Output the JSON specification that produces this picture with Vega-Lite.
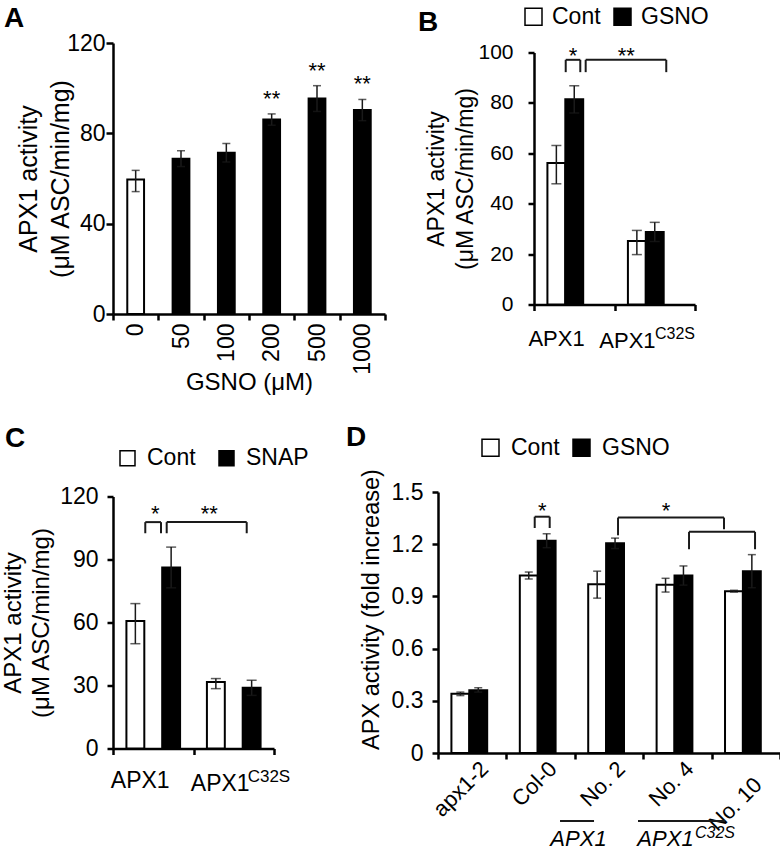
{
  "$schema": "https://vega.github.io/schema/vega-lite/v6.json",
  "padding": {"left": 1, "top": 5, "right": 0, "bottom": 0},
  "background": "white",
  "config": {
    "font": "Liberation Sans",
    "view": {"stroke": null},
    "axis": {"domainColor": "black", "domainWidth": 2.5, "tickColor": "black", "tickWidth": 2.5, "tickSize": 6, "labelColor": "black", "labelFontSize": 22, "titleColor": "black", "titleFontSize": 24, "titleFontWeight": "normal", "grid": false},
    "title": {"fontSize": 28, "fontWeight": "bold", "color": "black", "anchor": "start", "frame": "group", "offset": 0},
    "text": {"color": "black"}
  },
  "spacing": 29,
  "bounds": "full",
  "resolve": {"scale": {"fill": "independent"}, "legend": {"fill": "independent"}},
  "vconcat": [
    {
      "spacing": 149,
      "bounds": "flush",
      "center": true,
      "resolve": {"scale": {"fill": "independent"}, "legend": {"fill": "independent"}},
      "hconcat": [
        {
          "width": 272,
          "height": 271,
          "title": {"text": "A", "dx": -109, "dy": 5},
          "data": {"values": [
            {"conc": "0", "trt": "Cont", "value": 59.6, "lo": 54.2, "hi": 63.6, "sig": ""},
            {"conc": "50", "trt": "GSNO", "value": 68.8, "lo": 65.3, "hi": 72.3, "sig": ""},
            {"conc": "100", "trt": "GSNO", "value": 71.4, "lo": 67.3, "hi": 75.5, "sig": ""},
            {"conc": "200", "trt": "GSNO", "value": 86.1, "lo": 83.6, "hi": 88.6, "sig": "**"},
            {"conc": "500", "trt": "GSNO", "value": 95.4, "lo": 89.7, "hi": 101.1, "sig": "**"},
            {"conc": "1000", "trt": "GSNO", "value": 90.3, "lo": 85.6, "hi": 95.0, "sig": "**"}
          ]},
          "layer": [
            {
              "mark": {"type": "bar", "stroke": "black", "strokeWidth": 2, "width": {"band": 0.37}},
              "encoding": {
                "x": {"field": "conc", "type": "nominal", "sort": null, "scale": {"paddingInner": 0, "paddingOuter": 0},
                      "axis": {"title": "GSNO (μM)", "labelAngle": 270, "tickBand": "extent", "tickSize": 6, "labelPadding": 3, "titlePadding": -4, "labelFontSize": 23, "titleFontSize": 24}},
                "y": {"field": "value", "type": "quantitative", "scale": {"domain": [0, 120]},
                      "axis": {"values": [0, 40, 80, 120], "title": ["APX1 activity", "(μM ASC/min/mg)"], "titleLineHeight": 32, "titlePadding": -7, "tickSize": 7, "labelPadding": 1, "labelFontSize": 23, "titleFontSize": 25}},
                "fill": {"field": "trt", "type": "nominal", "scale": {"domain": ["Cont", "GSNO"], "range": ["white", "black"]}, "legend": null}
              }
            },
            {
              "mark": {"type": "rule", "color": "#1a1a1a", "strokeWidth": 1.5},
              "encoding": {
                "x": {"field": "conc", "type": "nominal", "sort": null},
                "y": {"field": "lo", "type": "quantitative", "scale": {"domain": [0, 120]}},
                "y2": {"field": "hi"}
              }
            },
            {
              "mark": {"type": "tick", "color": "#1a1a1a", "thickness": 1.5, "size": 8},
              "encoding": {
                "x": {"field": "conc", "type": "nominal", "sort": null},
                "y": {"field": "hi", "type": "quantitative", "scale": {"domain": [0, 120]}}
              }
            },
            {
              "mark": {"type": "tick", "color": "#1a1a1a", "thickness": 1.5, "size": 8},
              "encoding": {
                "x": {"field": "conc", "type": "nominal", "sort": null},
                "y": {"field": "lo", "type": "quantitative", "scale": {"domain": [0, 120]}}
              }
            },
            {
              "mark": {"type": "text", "fontSize": 22, "baseline": "middle", "dy": -15},
              "encoding": {
                "x": {"field": "conc", "type": "nominal", "sort": null},
                "y": {"field": "hi", "type": "quantitative", "scale": {"domain": [0, 120]}},
                "text": {"field": "sig"}
              }
            }
          ]
        },
        {
          "width": 161,
          "height": 252,
          "title": {"text": "B", "dx": -116, "dy": 36},
          "resolve": {"scale": {"x": "independent"}},
          "layer": [
            {
              "data": {"values": [
                {"construct": "APX1", "trt": "Cont", "value": 56.2, "lo": 47.9, "hi": 63.1},
                {"construct": "APX1", "trt": "GSNO", "value": 81.4, "lo": 76.0, "hi": 86.8},
                {"construct": "APX1C32S", "trt": "Cont", "value": 25.2, "lo": 19.8, "hi": 29.4},
                {"construct": "APX1C32S", "trt": "GSNO", "value": 28.8, "lo": 25.0, "hi": 32.6}
              ]},
              "layer": [
                {
                  "mark": {"type": "bar", "stroke": "black", "strokeWidth": 2},
                  "encoding": {
                    "x": {"field": "construct", "type": "nominal", "sort": null, "scale": {"paddingInner": 0, "paddingOuter": 0},
                          "axis": {"title": null, "labels": false, "tickBand": "extent", "tickSize": 6}},
                    "xOffset": {"field": "trt", "type": "nominal", "sort": null, "scale": {"paddingInner": 0, "paddingOuter": 0.75}},
                    "y": {"field": "value", "type": "quantitative", "scale": {"domain": [0, 100]},
                          "axis": {"values": [0, 20, 40, 60, 80, 100], "title": ["APX1 activity", "(μM ASC/min/mg)"], "titleLineHeight": 29, "titlePadding": 0, "tickSize": 6, "labelPadding": 15, "labelFontSize": 21, "titleFontSize": 23}},
                    "fill": {"field": "trt", "type": "nominal", "sort": null, "scale": {"domain": ["Cont", "GSNO"], "range": ["white", "black"]},
                             "legend": {"orient": "none", "legendX": -12, "legendY": -47.5, "direction": "horizontal", "title": null, "symbolType": "square", "symbolSize": 289, "symbolStrokeColor": "black", "symbolStrokeWidth": 1.5, "labelFontSize": 23, "labelOffset": 7, "columnPadding": 10, "padding": 0}}
                  }
                },
                {
                  "mark": {"type": "rule", "color": "#1a1a1a", "strokeWidth": 1.5},
                  "encoding": {
                    "x": {"field": "construct", "type": "nominal", "sort": null},
                    "xOffset": {"field": "trt", "type": "nominal", "sort": null},
                    "y": {"field": "lo", "type": "quantitative", "scale": {"domain": [0, 100]}},
                    "y2": {"field": "hi"}
                  }
                },
                {
                  "mark": {"type": "tick", "color": "#1a1a1a", "thickness": 1.5, "size": 10},
                  "encoding": {
                    "x": {"field": "construct", "type": "nominal", "sort": null},
                    "xOffset": {"field": "trt", "type": "nominal", "sort": null},
                    "y": {"field": "hi", "type": "quantitative", "scale": {"domain": [0, 100]}}
                  }
                },
                {
                  "mark": {"type": "tick", "color": "#1a1a1a", "thickness": 1.5, "size": 10},
                  "encoding": {
                    "x": {"field": "construct", "type": "nominal", "sort": null},
                    "xOffset": {"field": "trt", "type": "nominal", "sort": null},
                    "y": {"field": "lo", "type": "quantitative", "scale": {"domain": [0, 100]}}
                  }
                }
              ]
            },
            {
              "layer": [
                {
                  "data": {"values": [
                    {"x1": 0.394, "x2": 0.394, "y1": 92.2, "y2": 97.1},
                    {"x1": 0.394, "x2": 0.575, "y1": 97.1, "y2": 97.1},
                    {"x1": 0.575, "x2": 0.575, "y1": 92.2, "y2": 97.1},
                    {"x1": 0.642, "x2": 0.642, "y1": 92.2, "y2": 97.1},
                    {"x1": 0.642, "x2": 1.643, "y1": 97.1, "y2": 97.1},
                    {"x1": 1.643, "x2": 1.643, "y1": 92.2, "y2": 97.1}
                  ]},
                  "mark": {"type": "rule", "color": "#1a1a1a", "strokeWidth": 2},
                  "encoding": {
                    "x": {"field": "x1", "type": "quantitative", "scale": {"domain": [0, 2], "nice": false, "zero": false}, "axis": null},
                    "x2": {"field": "x2"},
                    "y": {"field": "y1", "type": "quantitative", "scale": {"domain": [0, 100]}},
                    "y2": {"field": "y2"}
                  }
                },
                {
                  "data": {"values": [
                    {"x": 0.484, "y": 100.8, "t": "*"},
                    {"x": 1.147, "y": 100.8, "t": "**"}
                  ]},
                  "mark": {"type": "text", "fontSize": 22, "baseline": "middle", "dy": 6},
                  "encoding": {
                    "x": {"field": "x", "type": "quantitative", "scale": {"domain": [0, 2], "nice": false, "zero": false}, "axis": null},
                    "y": {"field": "y", "type": "quantitative", "scale": {"domain": [0, 100]}},
                    "text": {"field": "t"}
                  }
                },
                {
                  "data": {"values": [
                    {"x": 0.280, "y": -16.3, "t": "APX1"},
                    {"x": 1.161, "y": -17.1, "t": "APX1"}
                  ]},
                  "mark": {"type": "text", "fontSize": 22, "baseline": "alphabetic", "align": "center"},
                  "encoding": {
                    "x": {"field": "x", "type": "quantitative", "scale": {"domain": [0, 2], "nice": false, "zero": false}, "axis": null},
                    "y": {"field": "y", "type": "quantitative", "scale": {"domain": [0, 100]}},
                    "text": {"field": "t"}
                  }
                },
                {
                  "data": {"values": [
                    {"x": 1.503, "y": -13.5, "t": "C32S"}
                  ]},
                  "mark": {"type": "text", "fontSize": 16, "baseline": "alphabetic", "align": "left"},
                  "encoding": {
                    "x": {"field": "x", "type": "quantitative", "scale": {"domain": [0, 2], "nice": false, "zero": false}, "axis": null},
                    "y": {"field": "y", "type": "quantitative", "scale": {"domain": [0, 100]}},
                    "text": {"field": "t"}
                  }
                }
              ]
            }
          ]
        }
      ]
    },
    {
      "spacing": 164,
      "bounds": "flush",
      "center": true,
      "resolve": {"scale": {"fill": "independent"}, "legend": {"fill": "independent"}},
      "hconcat": [
        {
          "width": 161,
          "height": 252,
          "title": {"text": "C", "dx": -108, "dy": 10.5},
          "resolve": {"scale": {"x": "independent"}},
          "layer": [
            {
              "data": {"values": [
                {"construct": "APX1", "trt": "Cont", "value": 60.7, "lo": 49.9, "hi": 69.0},
                {"construct": "APX1", "trt": "SNAP", "value": 86.2, "lo": 76.5, "hi": 95.9},
                {"construct": "APX1C32S", "trt": "Cont", "value": 31.7, "lo": 28.5, "hi": 33.3},
                {"construct": "APX1C32S", "trt": "SNAP", "value": 28.9, "lo": 25.3, "hi": 32.5}
              ]},
              "layer": [
                {
                  "mark": {"type": "bar", "stroke": "black", "strokeWidth": 2},
                  "encoding": {
                    "x": {"field": "construct", "type": "nominal", "sort": null, "scale": {"paddingInner": 0, "paddingOuter": 0},
                          "axis": {"title": null, "labels": false, "tickBand": "extent", "tickSize": 6}},
                    "xOffset": {"field": "trt", "type": "nominal", "sort": null, "scale": {"paddingInner": 0, "paddingOuter": 0.75}},
                    "y": {"field": "value", "type": "quantitative", "scale": {"domain": [0, 120]},
                          "axis": {"values": [0, 30, 60, 90, 120], "title": ["APX1 activity", "(μM ASC/min/mg)"], "titleLineHeight": 28, "titlePadding": 6, "tickSize": 6, "labelPadding": 9, "labelFontSize": 23, "titleFontSize": 24}},
                    "fill": {"field": "trt", "type": "nominal", "sort": null, "scale": {"domain": ["Cont", "SNAP"], "range": ["white", "black"]},
                             "legend": {"orient": "none", "legendX": 3, "legendY": -50, "direction": "horizontal", "title": null, "symbolType": "square", "symbolSize": 225, "symbolStrokeColor": "black", "symbolStrokeWidth": 1.5, "labelFontSize": 23, "labelOffset": 8, "columnPadding": 19, "padding": 0}}
                  }
                },
                {
                  "mark": {"type": "rule", "color": "#1a1a1a", "strokeWidth": 1.5},
                  "encoding": {
                    "x": {"field": "construct", "type": "nominal", "sort": null},
                    "xOffset": {"field": "trt", "type": "nominal", "sort": null},
                    "y": {"field": "lo", "type": "quantitative", "scale": {"domain": [0, 120]}},
                    "y2": {"field": "hi"}
                  }
                },
                {
                  "mark": {"type": "tick", "color": "#1a1a1a", "thickness": 1.5, "size": 10},
                  "encoding": {
                    "x": {"field": "construct", "type": "nominal", "sort": null},
                    "xOffset": {"field": "trt", "type": "nominal", "sort": null},
                    "y": {"field": "hi", "type": "quantitative", "scale": {"domain": [0, 120]}}
                  }
                },
                {
                  "mark": {"type": "tick", "color": "#1a1a1a", "thickness": 1.5, "size": 10},
                  "encoding": {
                    "x": {"field": "construct", "type": "nominal", "sort": null},
                    "xOffset": {"field": "trt", "type": "nominal", "sort": null},
                    "y": {"field": "lo", "type": "quantitative", "scale": {"domain": [0, 120]}}
                  }
                }
              ]
            },
            {
              "layer": [
                {
                  "data": {"values": [
                    {"x1": 0.401, "x2": 0.401, "y1": 102.5, "y2": 107.8},
                    {"x1": 0.401, "x2": 0.596, "y1": 107.8, "y2": 107.8},
                    {"x1": 0.596, "x2": 0.596, "y1": 102.5, "y2": 107.8},
                    {"x1": 0.667, "x2": 0.667, "y1": 102.5, "y2": 107.8},
                    {"x1": 0.667, "x2": 1.661, "y1": 107.8, "y2": 107.8},
                    {"x1": 1.661, "x2": 1.661, "y1": 102.5, "y2": 107.8}
                  ]},
                  "mark": {"type": "rule", "color": "#1a1a1a", "strokeWidth": 2},
                  "encoding": {
                    "x": {"field": "x1", "type": "quantitative", "scale": {"domain": [0, 2], "nice": false, "zero": false}, "axis": null},
                    "x2": {"field": "x2"},
                    "y": {"field": "y1", "type": "quantitative", "scale": {"domain": [0, 120]}},
                    "y2": {"field": "y2"}
                  }
                },
                {
                  "data": {"values": [
                    {"x": 0.525, "y": 114.6, "t": "*"},
                    {"x": 1.196, "y": 114.6, "t": "**"}
                  ]},
                  "mark": {"type": "text", "fontSize": 22, "baseline": "middle", "dy": 6},
                  "encoding": {
                    "x": {"field": "x", "type": "quantitative", "scale": {"domain": [0, 2], "nice": false, "zero": false}, "axis": null},
                    "y": {"field": "y", "type": "quantitative", "scale": {"domain": [0, 120]}},
                    "text": {"field": "t"}
                  }
                },
                {
                  "data": {"values": [
                    {"x": 0.338, "y": -19.0, "t": "APX1"},
                    {"x": 1.332, "y": -20.0, "t": "APX1"}
                  ]},
                  "mark": {"type": "text", "fontSize": 23, "baseline": "alphabetic", "align": "center"},
                  "encoding": {
                    "x": {"field": "x", "type": "quantitative", "scale": {"domain": [0, 2], "nice": false, "zero": false}, "axis": null},
                    "y": {"field": "y", "type": "quantitative", "scale": {"domain": [0, 120]}},
                    "text": {"field": "t"}
                  }
                },
                {
                  "data": {"values": [
                    {"x": 1.673, "y": -16.0, "t": "C32S"}
                  ]},
                  "mark": {"type": "text", "fontSize": 17, "baseline": "alphabetic", "align": "left"},
                  "encoding": {
                    "x": {"field": "x", "type": "quantitative", "scale": {"domain": [0, 2], "nice": false, "zero": false}, "axis": null},
                    "y": {"field": "y", "type": "quantitative", "scale": {"domain": [0, 120]}},
                    "text": {"field": "t"}
                  }
                }
              ]
            }
          ]
        },
        {
          "width": 342,
          "height": 261,
          "title": {"text": "D", "dx": -92, "dy": 20},
          "resolve": {"scale": {"x": "independent"}},
          "layer": [
            {
              "data": {"values": [
                {"line": "apx1-2", "trt": "Cont", "value": 0.34, "lo": 0.33, "hi": 0.35},
                {"line": "apx1-2", "trt": "GSNO", "value": 0.36, "lo": 0.35, "hi": 0.375},
                {"line": "Col-0", "trt": "Cont", "value": 1.02, "lo": 1.0, "hi": 1.04},
                {"line": "Col-0", "trt": "GSNO", "value": 1.22, "lo": 1.18, "hi": 1.26},
                {"line": "No. 2", "trt": "Cont", "value": 0.97, "lo": 0.89, "hi": 1.045},
                {"line": "No. 2", "trt": "GSNO", "value": 1.205, "lo": 1.175, "hi": 1.235},
                {"line": "No. 4", "trt": "Cont", "value": 0.967, "lo": 0.925, "hi": 1.004},
                {"line": "No. 4", "trt": "GSNO", "value": 1.02, "lo": 0.965, "hi": 1.075},
                {"line": "No. 10", "trt": "Cont", "value": 0.93, "lo": 0.925, "hi": 0.935},
                {"line": "No. 10", "trt": "GSNO", "value": 1.045, "lo": 0.95, "hi": 1.14}
              ]},
              "layer": [
                {
                  "mark": {"type": "bar", "stroke": "black", "strokeWidth": 2},
                  "encoding": {
                    "x": {"field": "line", "type": "nominal", "sort": null, "scale": {"paddingInner": 0, "paddingOuter": 0},
                          "axis": {"title": null, "labelAngle": -45, "labelAlign": "right", "labelBaseline": "middle", "tickBand": "extent", "tickSize": 6, "labelOffset": 12, "labelFontSize": 22,
                                   "labelPadding": {"condition": {"test": "datum.value == 'No. 10'", "value": 22}, "value": 6}}},
                    "xOffset": {"field": "trt", "type": "nominal", "sort": null, "scale": {"paddingInner": 0, "paddingOuter": 1.01}},
                    "y": {"field": "value", "type": "quantitative", "scale": {"domain": [0, 1.5]},
                          "axis": {"values": [0, 0.3, 0.6, 0.9, 1.2, 1.5], "labelExpr": "datum.value == 0 ? '0' : format(datum.value, '.1f')", "title": "APX activity (fold increase)", "titlePadding": 8, "titleY": 117, "tickSize": 6, "labelPadding": 9, "labelFontSize": 23, "titleFontSize": 23.5}},
                    "fill": {"field": "trt", "type": "nominal", "sort": null, "scale": {"domain": ["Cont", "GSNO"], "range": ["white", "black"]},
                             "legend": {"orient": "none", "legendX": 41, "legendY": -56, "direction": "horizontal", "title": null, "symbolType": "square", "symbolSize": 289, "symbolStrokeColor": "black", "symbolStrokeWidth": 1.5, "labelFontSize": 23, "labelOffset": 9, "columnPadding": 10, "padding": 0}}
                  }
                },
                {
                  "mark": {"type": "rule", "color": "#1a1a1a", "strokeWidth": 1.5},
                  "encoding": {
                    "x": {"field": "line", "type": "nominal", "sort": null},
                    "xOffset": {"field": "trt", "type": "nominal", "sort": null},
                    "y": {"field": "lo", "type": "quantitative", "scale": {"domain": [0, 1.5]}},
                    "y2": {"field": "hi"}
                  }
                },
                {
                  "mark": {"type": "tick", "color": "#1a1a1a", "thickness": 1.5, "size": 8},
                  "encoding": {
                    "x": {"field": "line", "type": "nominal", "sort": null},
                    "xOffset": {"field": "trt", "type": "nominal", "sort": null},
                    "y": {"field": "hi", "type": "quantitative", "scale": {"domain": [0, 1.5]}}
                  }
                },
                {
                  "mark": {"type": "tick", "color": "#1a1a1a", "thickness": 1.5, "size": 8},
                  "encoding": {
                    "x": {"field": "line", "type": "nominal", "sort": null},
                    "xOffset": {"field": "trt", "type": "nominal", "sort": null},
                    "y": {"field": "lo", "type": "quantitative", "scale": {"domain": [0, 1.5]}}
                  }
                }
              ]
            },
            {
              "layer": [
                {
                  "data": {"values": [
                    {"x1": 1.414, "x2": 1.414, "y1": 1.293, "y2": 1.358},
                    {"x1": 1.414, "x2": 1.633, "y1": 1.358, "y2": 1.358},
                    {"x1": 1.633, "x2": 1.633, "y1": 1.293, "y2": 1.358},
                    {"x1": 2.632, "x2": 2.632, "y1": 1.251, "y2": 1.353},
                    {"x1": 2.632, "x2": 4.181, "y1": 1.353, "y2": 1.353},
                    {"x1": 4.181, "x2": 4.181, "y1": 1.286, "y2": 1.353},
                    {"x1": 3.670, "x2": 3.670, "y1": 1.171, "y2": 1.271},
                    {"x1": 3.670, "x2": 4.635, "y1": 1.271, "y2": 1.271},
                    {"x1": 4.635, "x2": 4.635, "y1": 1.171, "y2": 1.271},
                    {"x1": 1.784, "x2": 2.281, "y1": -0.391, "y2": -0.391},
                    {"x1": 2.924, "x2": 4.196, "y1": -0.391, "y2": -0.391}
                  ]},
                  "mark": {"type": "rule", "color": "#1a1a1a", "strokeWidth": 2},
                  "encoding": {
                    "x": {"field": "x1", "type": "quantitative", "scale": {"domain": [0, 5], "nice": false, "zero": false}, "axis": null},
                    "x2": {"field": "x2"},
                    "y": {"field": "y1", "type": "quantitative", "scale": {"domain": [0, 1.5]}},
                    "y2": {"field": "y2"}
                  }
                },
                {
                  "data": {"values": [
                    {"x": 1.523, "y": 1.424, "t": "*"},
                    {"x": 3.333, "y": 1.424, "t": "*"}
                  ]},
                  "mark": {"type": "text", "fontSize": 22, "baseline": "middle", "dy": 6},
                  "encoding": {
                    "x": {"field": "x", "type": "quantitative", "scale": {"domain": [0, 5], "nice": false, "zero": false}, "axis": null},
                    "y": {"field": "y", "type": "quantitative", "scale": {"domain": [0, 1.5]}},
                    "text": {"field": "t"}
                  }
                },
                {
                  "data": {"values": [
                    {"x": 2.054, "y": -0.534, "t": "APX1"},
                    {"x": 3.326, "y": -0.534, "t": "APX1"}
                  ]},
                  "mark": {"type": "text", "fontSize": 22, "fontStyle": "italic", "baseline": "alphabetic", "align": "center"},
                  "encoding": {
                    "x": {"field": "x", "type": "quantitative", "scale": {"domain": [0, 5], "nice": false, "zero": false}, "axis": null},
                    "y": {"field": "y", "type": "quantitative", "scale": {"domain": [0, 1.5]}},
                    "text": {"field": "t"}
                  }
                },
                {
                  "data": {"values": [
                    {"x": 3.757, "y": -0.489, "t": "C32S"}
                  ]},
                  "mark": {"type": "text", "fontSize": 16, "fontStyle": "italic", "baseline": "alphabetic", "align": "left"},
                  "encoding": {
                    "x": {"field": "x", "type": "quantitative", "scale": {"domain": [0, 5], "nice": false, "zero": false}, "axis": null},
                    "y": {"field": "y", "type": "quantitative", "scale": {"domain": [0, 1.5]}},
                    "text": {"field": "t"}
                  }
                }
              ]
            }
          ]
        }
      ]
    }
  ]
}
